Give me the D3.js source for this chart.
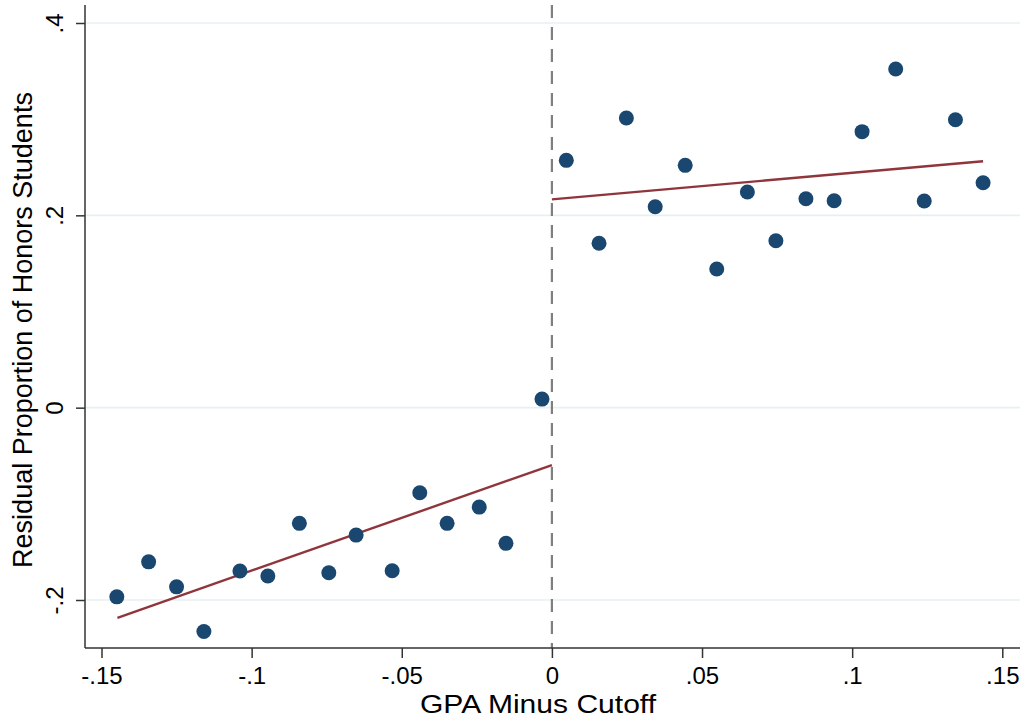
<!DOCTYPE html>
<html lang="en">
<head>
<meta charset="UTF-8">
<title>Residual Proportion of Honors Students</title>
<script src="https://d3js.org/d3.v7.min.js"></script>
<style>
  body { margin: 0; background: #fff; }
  svg { display: block; font-family: "Liberation Sans", Arial, Helvetica, sans-serif; }
  .grid line { stroke: #e6f0f2; stroke-width: 1.6px; }
  .axis path, .axis line { stroke: #333; stroke-width: 1.5px; }
  .axis text { fill: #000; font-size: 24px; }
</style>
</head>
<body>
<svg width="1023" height="719"></svg>
<script>
// binned scatter: GPA minus cutoff vs residual proportion
const binX = [-0.1449, -0.1343, -0.1250, -0.1159, -0.1039, -0.0946, -0.0841, -0.0743, -0.0652, -0.0532,
              -0.0440, -0.0349, -0.0242, -0.0153, -0.0033,
              0.0048, 0.0157, 0.0248, 0.0344, 0.0444, 0.0549, 0.0651, 0.0746, 0.0846, 0.0940,
              0.1033, 0.1145, 0.1240, 0.1344, 0.1436];
const binY = [-0.1967, -0.1603, -0.1863, -0.2327, -0.1699, -0.1751, -0.1203, -0.1717, -0.1325, -0.1696,
              -0.0885, -0.1203, -0.1034, -0.1411, 0.0089,
              0.2572, 0.1709, 0.3012, 0.2089, 0.2520, 0.1442, 0.2242, 0.1736, 0.2173, 0.2152,
              0.2870, 0.3522, 0.2149, 0.2994, 0.2339];

// linear fits on each side of the cutoff
const fitLeft = [[-0.1447, -0.2185], [0, -0.0597]];
const fitRight = [[0, 0.2166], [0.1436, 0.2562]];

const xTicks = [-0.15, -0.1, -0.05, 0, 0.05, 0.1, 0.15];
const yTicks = [-0.2, 0, 0.2, 0.4];

const svg = d3.select("svg");
const plotL = 85, plotR = 1020, plotT = 5, plotB = 648;

const x = d3.scaleLinear().domain([-0.15, 0.15]).range([101.5, 1002.3]);
const y = d3.scaleLinear().domain([-0.2, 0.4]).range([600, 23]);

// stata style numbers: -.15, .1, 0
const fmt = v => v === 0 ? "0" : String(+v.toFixed(2)).replace("0.", ".");

// gridlines
svg.append("g").attr("class", "grid")
  .selectAll("line").data(yTicks).enter().append("line")
  .attr("x1", plotL).attr("x2", plotR)
  .attr("y1", d => y(d)).attr("y2", d => y(d));

// cutoff line
svg.append("line")
  .attr("x1", x(0)).attr("x2", x(0))
  .attr("y1", plotT).attr("y2", plotB)
  .attr("stroke", "#7f7f7f").attr("stroke-width", 2.2)
  .attr("stroke-dasharray", "13,9");

// fit lines
const line = d3.line().x(d => x(d[0])).y(d => y(d[1]));
svg.selectAll("path.fit").data([fitLeft, fitRight]).enter().append("path")
  .attr("class", "fit")
  .attr("d", line)
  .attr("fill", "none").attr("stroke", "#90353b").attr("stroke-width", 2.4);

// points
svg.selectAll("circle.dot").data(binX).enter().append("circle")
  .attr("class", "dot")
  .attr("cx", d => x(d))
  .attr("cy", (d, i) => y(binY[i]))
  .attr("r", 7.5)
  .attr("fill", "#1a476f");

// x axis
const gx = svg.append("g").attr("class", "axis")
  .attr("transform", `translate(0,${plotB})`)
  .call(d3.axisBottom(x).tickValues(xTicks).tickFormat(fmt).tickSize(10).tickSizeOuter(0));
gx.select(".domain").attr("d", `M${plotL},0H${plotR}`);
gx.selectAll("text").attr("y", 36).attr("dy", 0);

// y axis
const gy = svg.append("g").attr("class", "axis")
  .attr("transform", `translate(${plotL},0)`)
  .call(d3.axisLeft(y).tickValues(yTicks).tickFormat(fmt).tickSize(9).tickSizeOuter(0));
gy.select(".domain").attr("d", `M0,${plotT}V${plotB}`);
gy.selectAll("text")
  .attr("transform", "rotate(-90)")
  .attr("x", 0).attr("y", -22).attr("dy", 0)
  .attr("text-anchor", "middle");

// axis titles
svg.append("text")
  .attr("x", 538).attr("y", 713)
  .attr("text-anchor", "middle")
  .attr("textLength", 236).attr("lengthAdjust", "spacingAndGlyphs")
  .style("font-size", "26px")
  .text("GPA Minus Cutoff");

svg.append("text")
  .attr("transform", "translate(32,330) rotate(-90)")
  .attr("text-anchor", "middle")
  .style("font-size", "27px")
  .text("Residual Proportion of Honors Students");
</script>
</body>
</html>
